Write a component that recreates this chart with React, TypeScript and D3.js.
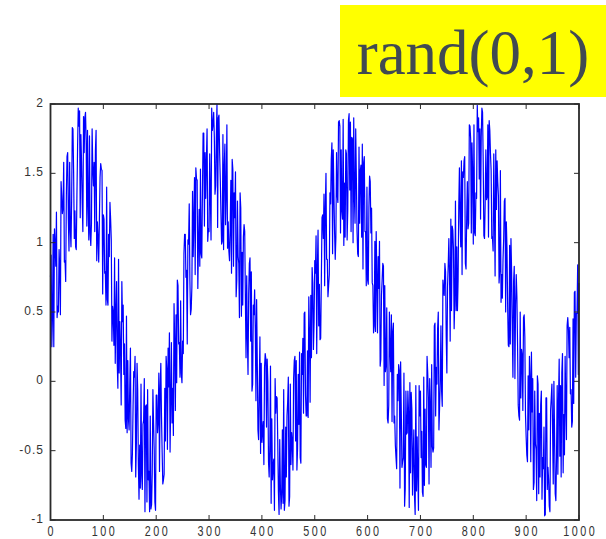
import React from "react";
import * as d3 from "d3";

// y values at x = 0, 2.5, 5, ... 1000
const values: number[] = [
  0.75, 0.25, 1.06, 1.10, 0.83, 0.46, 0.50, 0.81, 1.44, 1.21, 1.58, 0.87, 1.34, 1.65, 0.94, 1.10, 1.30, 1.82, 1.03, 0.97, 1.34, 1.97, 1.95, 1.78, 1.28,
  1.91, 1.90, 1.73, 1.81, 1.02, 1.07, 1.14, 1.53, 1.58, 1.66, 0.87, 1.04, 1.16, 1.57, 1.52, 1.20, 0.78, 0.55, 0.59, 1.06, 1.29, 1.02, 0.54, 0.26, 0.13,
  0.72, -0.05, 0.06, 0.25, 0.72, 0.55, 0.27, -0.34, -0.37, -0.27, -0.03, -0.59, -0.52, 0.07, 0.18, -0.45, -0.06, -0.85, -0.77, -0.68, -0.31, 0.02, -0.18, -0.87, -0.71,
  -0.94, -0.92, -0.66, -0.30, -0.87, -0.10, -0.37, 0.06, -0.05, -0.25, -0.74, -0.67, -0.43, 0.09, 0.24, 0.35, -0.14, -0.30, -0.39, 0.29, 0.48, 0.73, 0.27, 0.03, 0.06,
  0.29, 0.92, 1.06, 0.80, 1.02, 1.28, 0.48, 0.68, 0.90, 1.47, 1.54, 1.45, 1.00, 0.83, 0.92, 1.36, 1.79, 1.65, 1.60, 1.01, 1.08, 1.33, 1.97, 1.85, 1.76,
  1.41, 2.00, 1.90, 1.65, 1.21, 1.01, 0.95, 1.71, 1.36, 0.96, 0.94, 1.11, 0.78, 1.53, 1.36, 1.51, 0.73, 0.90, 0.46, 1.25, 0.93, 1.04, 1.08, 0.17, 0.32,
  0.63, 0.89, 0.79, -0.02, 0.48, 0.38, 0.59, -0.35, -0.05, -0.52, -0.44, -0.29, 0.10, 0.16, 0.16, -0.58, -0.46, -0.88, -0.71, -0.56, 0.02, -0.11, -0.44, -0.96, -0.76,
  -0.81, -0.88, -0.93, -0.33, -0.25, 0.03, -0.83, -0.60, -0.44, 0.02, 0.18, 0.15, -0.48, -0.31, -0.55, 0.20, 0.31, 0.49, -0.10, -0.25, -0.26, 0.35, 0.62, 0.82, 0.23,
  0.87, 1.05, 0.82, 0.40, 0.30, 0.74, 1.20, 1.35, 1.25, 0.88, 0.61, 0.77, 1.28, 1.72, 1.67, 1.08, 1.04, 1.35, 1.87, 1.84, 1.67, 1.17, 0.98, 1.04, 1.64,
  1.24, 1.93, 1.87, 1.76, 1.00, 1.33, 1.82, 1.08, 0.90, 1.14, 1.56, 1.71, 1.58, 1.08, 0.69, 0.73, 1.25, 1.44, 1.25, 0.69, 0.40, 0.36, 0.75, 0.90, 1.01,
  0.16, 0.73, 0.83, 0.69, 0.12, -0.27, -0.17, 0.24, 0.48, 0.36, -0.30, -0.46, -0.63, -0.14, 0.08, 0.14, -0.62, -0.55, -0.90, -0.07, -0.37, -0.23, -0.01, -0.08, -0.82,
  -0.35, -0.96, -0.79, -0.67, -0.03, -0.07, -0.36, -0.83, -0.75, -0.60, 0.18, -0.12, 0.02, -0.62, -0.47, -0.48, 0.42, 0.10, 0.38, -0.35, 0.00, -0.07, 0.73, 0.62, 0.79,
  0.06, 0.83, 0.78, 1.17, 1.12, 0.95, 0.59, 0.51, 0.51, 1.26, 1.18, 1.59, 1.51, 1.59, 0.85, 1.18, 1.10, 1.85, 1.75, 1.72, 0.99, 1.07, 1.36, 1.99, 1.90,
  1.82, 1.76, 1.94, 1.05, 1.29, 1.31, 1.85, 1.88, 1.64, 1.03, 0.94, 1.22, 1.67, 1.59, 1.34, 0.80, 0.57, 0.60, 1.03, 1.32, 1.15, 0.54, 0.25, 0.27, 0.79,
  0.03, 0.83, 0.55, 0.61, -0.17, -0.28, -0.12, 0.19, 0.46, 0.32, -0.40, -0.58, -0.35, 0.03, 0.21, 0.02, -0.73, -0.45, -0.86, -0.02, -0.23, -0.17, -0.85, -0.63, -0.97,
  -0.12, -0.78, -0.71, -0.94, -0.12, -0.34, 0.00, -0.81, -0.54, -0.67, 0.16, -0.03, 0.06, -0.66, -0.53, -0.15, 0.40, 0.37, 0.39, -0.06, -0.29, -0.16, 0.65, 0.49, 0.84,
  0.71,
];

// y values at the in-between samples x = 1.25, 3.75, ... 998.75
const midValues: number[] = [
  0.91, 0.47, 0.25, 0.99, 1.22, 0.54, 0.95, 0.48, 1.34, 1.25, 0.86, 0.72, 1.62, 1.17, 1.58, 0.97, 1.83, 1.51, 1.23, 0.95, 1.69, 1.84, 1.18, 1.58, 1.08,
  1.65, 1.94, 1.12, 1.27, 1.77, 0.98, 1.82, 1.41, 1.08, 1.81, 1.15, 0.86, 1.47, 1.53, 0.63, 1.17, 0.79, 1.40, 0.55, 0.90, 1.17, 0.29, 0.49, 0.89, 0.49,
  0.14, 0.88, 0.43, -0.17, 0.43, 0.05, -0.28, 0.47, 0.15, -0.35, 0.24, -0.65, -0.18, 0.03, -0.69, 0.13, -0.60, -0.46, -0.02, -0.78, -0.28, -0.94, -0.17, -0.06, -0.65,
  -0.25, -0.89, -0.06, -0.50, -0.93, -0.10, -0.29, -0.65, 0.13, -0.51, -0.71, -0.05, 0.18, -0.49, -0.04, -0.51, 0.28, -0.05, 0.56, -0.21, -0.01, 0.69, 0.28, 0.58, -0.01,
  0.20, 1.06, 0.75, 0.27, 0.99, 0.73, 0.52, 1.37, 1.17, 0.77, 1.46, 0.67, 1.24, 1.53, 0.89, 1.79, 1.12, 1.32, 1.82, 1.10, 1.64, 1.02, 1.81, 1.94, 1.35,
  1.75, 1.11, 1.92, 1.46, 0.99, 1.78, 1.55, 1.13, 1.85, 1.15, 0.87, 1.45, 1.60, 0.83, 1.18, 0.61, 1.30, 0.85, 1.36, 0.47, 0.55, 1.13, 0.60, 0.76, 0.05,
  0.85, 0.29, -0.07, 0.55, 0.66, -0.14, 0.15, -0.42, 0.32, 0.13, -0.36, -0.60, 0.20, -0.33, 0.00, -0.69, 0.11, -0.27, -0.61, -0.93, -0.23, -0.12, -0.80, -0.42, -0.92,
  -0.35, -0.06, -0.86, -0.69, -0.15, -0.90, -0.02, -0.37, -0.64, 0.15, -0.43, -0.64, 0.05, 0.21, -0.59, 0.05, -0.23, 0.50, -0.25, 0.22, 0.61, -0.15, 0.17, 0.71, 0.43,
  0.78, 0.20, 1.09, 0.70, 0.31, 1.18, 1.03, 0.69, 1.50, 0.88, 0.69, 1.36, 1.60, 0.92, 1.36, 0.88, 1.65, 1.29, 1.88, 1.07, 1.23, 1.89, 1.43, 1.67, 1.02,
  1.88, 1.38, 1.08, 1.75, 1.90, 1.14, 1.47, 0.92, 1.69, 1.52, 1.04, 0.81, 1.62, 1.08, 1.40, 0.70, 1.48, 1.07, 0.71, 0.35, 1.01, 1.08, 0.35, 0.67, 0.11,
  0.62, 0.85, -0.03, 0.07, 0.53, -0.30, 0.50, 0.07, -0.29, 0.42, -0.25, -0.55, 0.05, 0.12, -0.77, -0.22, -0.58, 0.06, -0.77, -0.38, -0.07, -0.91, -0.66, -0.20, -0.54,
  -0.83, -0.03, -0.40, -0.93, -0.25, -0.55, -0.80, 0.03, -0.20, -0.62, 0.06, -0.74, -0.18, 0.12, -0.51, 0.40, -0.25, -0.02, 0.50, -0.18, 0.40, -0.18, 0.66, 0.85, 0.32,
  0.68, 1.03, 0.29, 0.51, 1.09, 0.38, 1.30, 0.97, 0.73, 1.54, 0.97, 0.77, 1.47, 1.62, 0.81, 1.44, 1.14, 1.84, 1.07, 1.50, 1.85, 1.05, 1.32, 1.80, 1.46,
  1.17, 1.97, 1.58, 1.03, 1.67, 1.33, 1.04, 1.81, 1.52, 1.04, 1.64, 0.76, 1.24, 1.44, 0.71, 1.52, 0.77, 0.88, 1.30, 0.50, 0.96, 0.26, 0.98, 1.03, 0.38,
  0.72, 0.02, 0.77, 0.26, -0.25, 0.50, 0.23, -0.21, 0.48, -0.24, -0.53, 0.04, 0.18, -0.58, -0.22, -0.78, -0.07, -0.49, 0.04, -0.81, -0.69, -0.07, -0.55, -0.33, -0.96,
  -0.12, -0.62, -0.90, -0.21, -0.02, -0.74, -0.37, -0.86, -0.03, -0.14, -0.54, -0.69, 0.20, -0.24, 0.18, -0.42, 0.46, 0.17, -0.09, -0.33, 0.45, 0.64, 0.03, 0.49, 0.05,
];
const xStep = 2.5;

const xTicks: number[] = [0, 100, 200, 300, 400, 500, 600, 700, 800, 900, 1000];
const yTicks: number[] = [-1, -0.5, 0, 0.5, 1, 1.5, 2];
const yTickLabels: string[] = ["-1", "-0.5", "0", "0.5", "1", "1.5", "2"];
const titleText = "rand(0,1)";

export default function App() {
  const W = 606;
  const H = 539;
  const left = 50.5;
  const right = 579;
  const top = 104;
  const bottom = 520;

  const x = d3.scaleLinear().domain([0, 1000]).range([left, right]);
  const y = d3.scaleLinear().domain([-1, 2]).range([bottom, top]);

  // merge the two sample lists into one ordered series
  const points: [number, number][] = [];
  values.forEach((v, i) => {
    points.push([i * xStep, v]);
    if (i < midValues.length) points.push([i * xStep + xStep / 2, midValues[i]]);
  });

  const line = d3
    .line<[number, number]>()
    .x((d) => x(d[0]))
    .y((d) => y(d[1]));

  const axisColor = "#2a2a2a";
  const labelColor = "#333";
  const tickLen = 5;

  return (
    <svg
      width={W}
      height={H}
      style={{ position: "absolute", left: 0, top: 0, background: "#fff" }}
    >
      <rect x={0} y={0} width={W} height={H} fill="#fff" />
      {/* title box */}
      <rect x={340} y={5} width={266} height={92} fill="#ffff00" />
      <text
        x={473}
        y={74}
        textAnchor="middle"
        fontFamily="'Liberation Serif', 'Times New Roman', serif"
        fontSize={63}
        fill="#414a52"
      >
        {titleText}
      </text>

      {/* data line */}
      <path d={line(points) || ""} fill="none" stroke="#0000ff" strokeWidth={1.2} strokeLinejoin="round" />

      {/* frame */}
      <rect
        x={left}
        y={top}
        width={right - left}
        height={bottom - top}
        fill="none"
        stroke={axisColor}
        strokeWidth={1.8}
      />

      {/* x ticks */}
      {xTicks.map((t) => (
        <g key={"x" + t}>
          <line x1={x(t)} x2={x(t)} y1={bottom} y2={bottom - tickLen} stroke={axisColor} strokeWidth={1} />
          <line x1={x(t)} x2={x(t)} y1={top} y2={top + tickLen} stroke={axisColor} strokeWidth={1} />
          <g transform={`translate(${x(t) + 1.2},${536}) scale(0.72,1)`}>
            <text
              x={0}
              y={0}
              textAnchor="middle"
              fontFamily="Arial, 'Liberation Sans', sans-serif"
              fontSize={15}
              letterSpacing={3.5}
              fill={labelColor}
            >
              {String(t)}
            </text>
          </g>
        </g>
      ))}

      {/* y ticks */}
      {yTicks.map((t, i) => (
        <g key={"y" + t}>
          <line x1={left} x2={left + tickLen} y1={y(t)} y2={y(t)} stroke={axisColor} strokeWidth={1} />
          <line x1={right} x2={right - tickLen} y1={y(t)} y2={y(t)} stroke={axisColor} strokeWidth={1} />
          <text
            x={44}
            y={y(t) + 3}
            textAnchor="end"
            fontFamily="Arial, 'Liberation Sans', sans-serif"
            fontSize={12}
            letterSpacing={1}
            fill={labelColor}
          >
            {yTickLabels[i]}
          </text>
        </g>
      ))}
    </svg>
  );
}
